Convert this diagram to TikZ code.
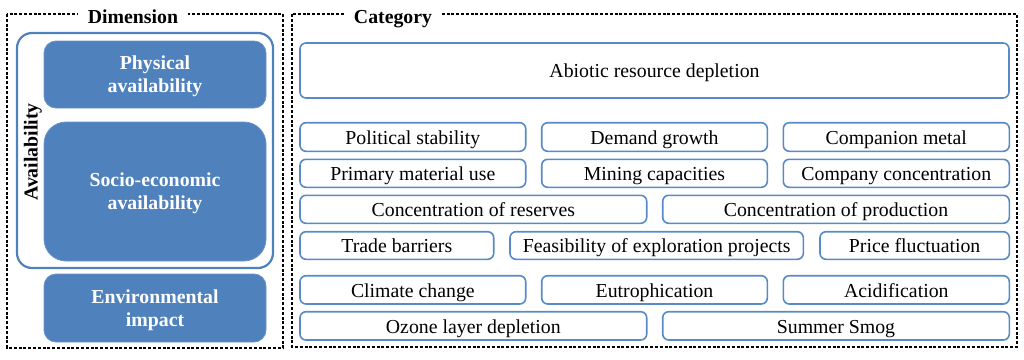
\documentclass[tikz,border=0pt]{standalone}
\usepackage{fontspec}
\setmainfont{Liberation Serif}
\definecolor{bxblue}{RGB}{79,129,189}
\definecolor{lnblue}{RGB}{88,138,200}
\tikzset{
  catbox/.style={draw=lnblue, line width=1.6pt, rounded corners=6pt, inner sep=0pt,
    text height=18pt, text depth=3.4pt,
    font=\fontsize{19.8}{23}\selectfont, text=black, align=center},
  dimbox/.style={fill=bxblue, draw=bxblue!85!white, line width=0.8pt, inner sep=0pt,
    text depth=0pt,
    font=\fontsize{19.8}{23}\selectfont\bfseries, text=white, align=center},
  frame/.style={draw=black, line width=1.1pt, dash pattern=on 3pt off 1.8pt},
  head/.style={fill=white, inner xsep=10pt, inner ysep=1pt, font=\fontsize{19.8}{23}\selectfont\bfseries, anchor=base}
}
\newcommand\cbox[6]{\node[catbox, minimum width={(#4-#2)*1pt}, minimum height={(#5-#3)*1pt}] (#1) at ({(#2+#4)/2},{(#3+#5)/2}) {#6};}
\newcommand\dbox[7]{\node[dimbox, rounded corners=#7pt, minimum width={(#4-#2)*1pt}, minimum height={(#5-#3)*1pt}] (#1) at ({(#2+#4)/2},{(#3+#5)/2}) {#6};}
\begin{document}
\begin{tikzpicture}[x=1pt,y=-1pt]
\useasboundingbox (0,0) rectangle (1024,359);
% frames
\path[frame] (7,14) rectangle (283,348);
\path[frame] (292,14) rectangle (1017,347);
\node[head] (dimh) at (133,23.5) {Dimension};
\node[head] (cath) at (393,23.5) {Category};
% availability group
\node[draw=bxblue, line width=2.2pt, rounded corners=15pt, minimum width=256pt, minimum height=235pt, inner sep=0pt] (avail) at (145,150.5) {};
\node[rotate=90, font=\fontsize{19.8}{23}\selectfont\bfseries] (availt) at (33,152) {Availability};
\dbox{phys}{44}{41}{266}{108}{Physical\\availability}{12}
\dbox{socio}{44}{122}{266}{261}{Socio-economic\\availability}{22}
\dbox{env}{44}{274}{266}{342}{Environmental\\impact}{12}
% categories
\cbox{abio}{300}{43}{1009}{98}{Abiotic resource depletion}
\cbox{pol}{300}{122.7}{525.7}{151.3}{Political stability}
\cbox{dem}{541.7}{122.7}{767.3}{151.3}{Demand growth}
\cbox{comp}{783.3}{122.7}{1009.3}{151.3}{Companion metal}
\cbox{prim}{300}{159.3}{525.7}{187.3}{Primary material use}
\cbox{mine}{541.7}{159.3}{767.3}{187.3}{Mining capacities}
\cbox{cconc}{783.3}{159.3}{1009.3}{187.3}{Company concentration}
\cbox{res}{300}{195.3}{646.7}{223.3}{Concentration of reserves}
\cbox{prod}{662.7}{195.3}{1009.3}{223.3}{Concentration of production}
\cbox{trade}{300}{231.7}{493.7}{259.3}{Trade barriers}
\cbox{feas}{510}{231.7}{803.3}{259.3}{Feasibility of exploration projects}
\cbox{price}{820}{231.7}{1009.3}{259.3}{Price fluctuation}
\cbox{clim}{300}{275.7}{525.7}{304}{Climate change}
\cbox{eutro}{541.7}{275.7}{767.3}{304}{Eutrophication}
\cbox{acid}{783.3}{275.7}{1009.3}{304}{Acidification}
\cbox{ozone}{300}{311.7}{646.7}{340}{Ozone layer depletion}
\cbox{smog}{662.7}{311.7}{1009.3}{340}{Summer Smog}
\end{tikzpicture}
\end{document}
